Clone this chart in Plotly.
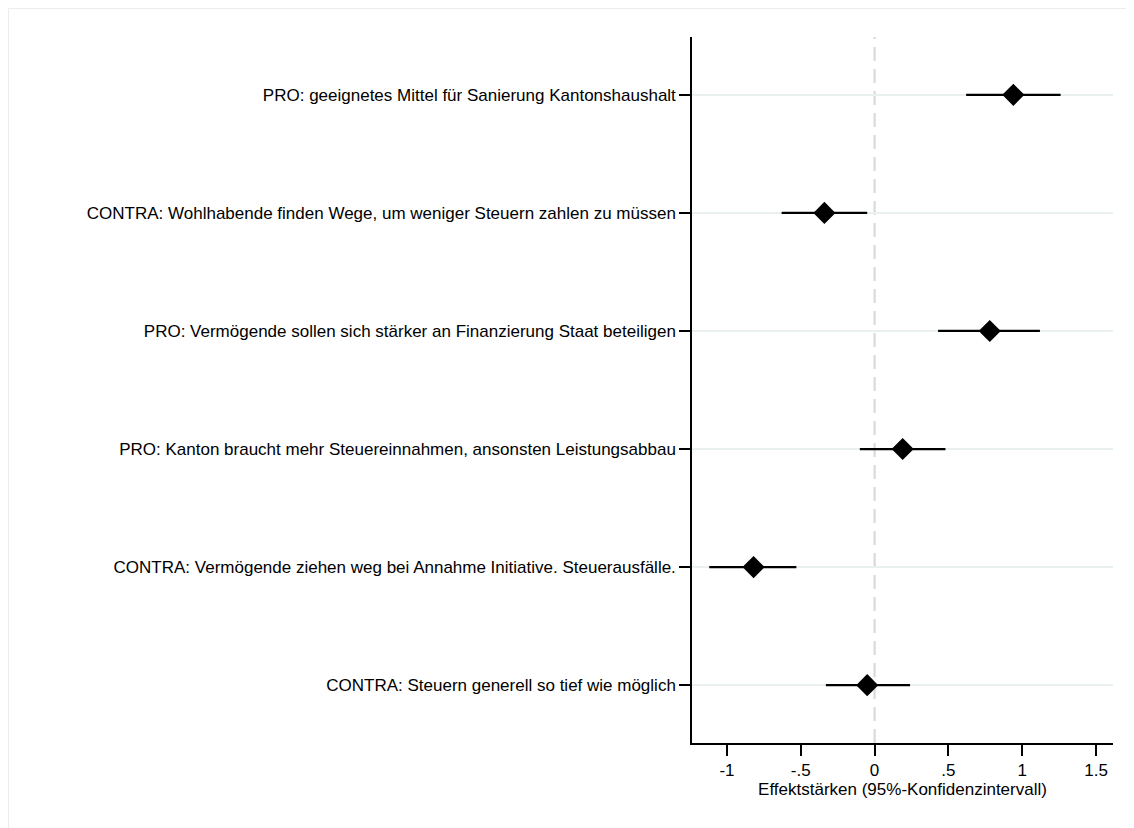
import plotly.graph_objects as go

labels = [
    "PRO: geeignetes Mittel für Sanierung Kantonshaushalt",
    "CONTRA: Wohlhabende finden Wege, um weniger Steuern zahlen zu müssen",
    "PRO: Vermögende sollen sich stärker an Finanzierung Staat beteiligen",
    "PRO: Kanton braucht mehr Steuereinnahmen, ansonsten Leistungsabbau",
    "CONTRA: Vermögende ziehen weg bei Annahme Initiative. Steuerausfälle.",
    "CONTRA: Steuern generell so tief wie möglich",
]
estimates = [0.94, -0.34, 0.78, 0.19, -0.82, -0.05]
ci_low = [0.62, -0.63, 0.43, -0.10, -1.12, -0.33]
ci_high = [1.26, -0.05, 1.12, 0.48, -0.53, 0.24]
xticks = [-1, -0.5, 0, 0.5, 1, 1.5]
xticklabels = ["-1", "-.5", "0", ".5", "1", "1.5"]

pos = list(range(1, len(labels) + 1))

fig = go.Figure()
fig.add_trace(go.Scatter(
    x=estimates, y=pos, mode="markers",
    marker=dict(symbol="diamond", size=17, color="black"),
    error_x=dict(type="data", symmetric=False,
                 array=[h - e for h, e in zip(ci_high, estimates)],
                 arrayminus=[e - l for e, l in zip(estimates, ci_low)],
                 color="black", thickness=2.2, width=0),
    showlegend=False,
))

# page has an ~8px body offset; figure is sized to compensate
W, H = 1126, 820
L, R, T, B = 684, 1105, 29, 735
pw, ph = R - L, B - T

fig.add_shape(type="line", xref="x", yref="paper", x0=0, x1=0, y0=0, y1=1,
              line=dict(color="#d9d9d9", width=2.2, dash="14px,8px"), layer="below")
# faint outer frame lines
fig.add_shape(type="line", xref="paper", yref="paper",
              x0=(0.5 - L) / pw, x1=(W - L) / pw, y0=(B - 0.5) / ph, y1=(B - 0.5) / ph,
              line=dict(color="#ececec", width=1))
fig.add_shape(type="line", xref="paper", yref="paper",
              x0=(0.5 - L) / pw, x1=(0.5 - L) / pw, y0=(B - 0.5) / ph, y1=(B - H) / ph,
              line=dict(color="#ececec", width=1))

font = "Liberation Sans, Arial, Helvetica, sans-serif"
fig.update_layout(
    width=W, height=H,
    margin=dict(l=L, r=W - R, t=T, b=H - B, autoexpand=False),
    paper_bgcolor="white", plot_bgcolor="white",
    font=dict(family=font, size=17, color="black"),
    xaxis=dict(range=[-1.237, 1.615], tickvals=xticks, ticktext=xticklabels,
               showgrid=False, zeroline=False, showline=True, linecolor="black",
               linewidth=1.5, ticks="outside", ticklen=11, tickwidth=1.5,
               tickcolor="black", tickfont=dict(size=17),
               title=dict(text="Effektstärken (95%-Konfidenzintervall)",
                          font=dict(size=17), standoff=4)),
    yaxis=dict(range=[6.49, 0.51], tickvals=pos, ticktext=labels,
               showgrid=True, gridcolor="#eaf0f0", gridwidth=2,
               zeroline=False, showline=True, linecolor="black", linewidth=1.5,
               ticks="outside", ticklen=11, tickwidth=1.5, tickcolor="black",
               tickfont=dict(size=17)),
)

fig.write_html("out.html")
